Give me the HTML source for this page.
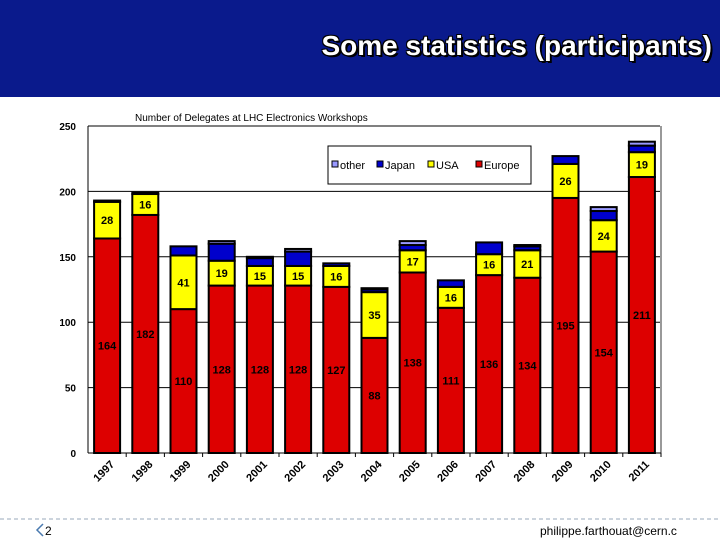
<!DOCTYPE html>
<html><head><meta charset="utf-8"><style>
body{margin:0;width:720px;height:540px;overflow:hidden;background:#fff;font-family:"Liberation Sans",sans-serif}
#hdr{position:absolute;left:0;top:0;width:720px;height:97px;background:#0a1a8c}
#ttl{position:absolute;right:8px;top:30px;font:bold 28px "Liberation Sans",sans-serif;color:#fff;text-shadow:2px 2px 0 #000,-1px -1px 0 #000,1px -1px 0 #000,-1px 1px 0 #000}
</style></head><body>
<div id="hdr"></div>
<div id="ttl">Some statistics (participants)</div>
<svg id="c" width="720" height="540" style="position:absolute;left:0;top:0"></svg>
<script>
const years=["1997","1998","1999","2000","2001","2002","2003","2004","2005","2006","2007","2008","2009","2010","2011"];
const europe=[164,182,110,128,128,128,127,88,138,111,136,134,195,154,211];
const usa=[28,16,41,19,15,15,16,35,17,16,16,21,26,24,19];
const japan=[0,0,7,13,6,11,2,2,4,5,9,3,6,7,5];
const other=[1,1,0,2,1,2,0,1,3,0,0,1,0,3,3];
const yTicks=[0,50,100,150,200,250];
const series=[["Europe",europe,"#dd0000"],["USA",usa,"#ffff00"],["Japan",japan,"#0000cc"],["other",other,"#9999ff"]];
const NS="http://www.w3.org/2000/svg",svg=document.getElementById('c');
const X0=88,SLOT=38.2,BW=26,Y0=453,K=327/250;
const y=v=>Y0-v*K, xc=i=>X0+SLOT*(i+0.5);
function mk(t,a,txt){const e=document.createElementNS(NS,t);for(const k in a)e.setAttribute(k,a[k]);if(txt!=null)e.textContent=txt;svg.appendChild(e);return e;}
let e=mk('text',{x:135,y:121,'font-size':10},"Number of Delegates at LHC Electronics Workshops");


yTicks.forEach(t=>{
 if(t>0){let g=mk('line',{x1:X0,x2:660,y1:y(t),y2:y(t),stroke:'#000','stroke-width':1});
 
 }
 let l=mk('text',{x:76,y:y(t)+4,'font-size':10,'font-weight':'bold','text-anchor':'end'},t);
 
 
});
mk('line',{x1:X0,x2:X0,y1:126,y2:Y0,stroke:'#000'});
mk('line',{x1:661,x2:661,y1:126,y2:Y0,stroke:'#999','stroke-width':2});
mk('line',{x1:X0,x2:661,y1:Y0,y2:Y0,stroke:'#000'});
years.forEach((yr,i)=>{
 let base=0;
 series.forEach(([nm,arr,col])=>{
  const v=arr[i];if(v<=0)return;
  let r=mk('rect',{x:xc(i)-BW/2,y:y(base+v),width:BW,height:v*K,fill:col,stroke:'#000','stroke-width':2});
  
  
  if(nm=="Europe"||nm=="USA"){
   let t=mk('text',{x:xc(i),y:y(base+v/2)+4,'font-size':11,'font-weight':'bold','text-anchor':'middle'},v);
   
   
  }
  base+=v;
 });
 mk('line',{x1:X0+SLOT*(i+1),x2:X0+SLOT*(i+1),y1:Y0,y2:Y0+4,stroke:'#000'});
 let xl=mk('text',{x:xc(i)+8,y:Y0+12,'font-size':11,'font-weight':'bold','text-anchor':'end',transform:`rotate(-45 ${xc(i)+8} ${Y0+12})`},yr);
 
 
});
let lg=mk('rect',{x:328,y:146,width:203,height:38,fill:'#fff',stroke:'#000'});


[["other","#9999ff",332],["Japan","#0000cc",377],["USA","#ffff00",428],["Europe","#dd0000",476]].forEach(([n,c,x])=>{
 mk('rect',{x:x,y:161,width:6,height:6,fill:c,stroke:'#000'});
 let t=mk('text',{x:x+8,y:169,'font-size':11},n);
 
 
});
mk('line',{x1:0,x2:720,y1:519,y2:519,stroke:'#9ab','stroke-dasharray':'4,3'});
let pn=mk('text',{x:45,y:535,'font-size':12},"2");


mk('path',{d:'M43 524 L37 530 L43 536',fill:'none',stroke:'#4a7ab0','stroke-width':1.5});
let em=mk('text',{x:540,y:535,'font-size':12},"philippe.farthouat@cern.c");


</script>
</body></html>
